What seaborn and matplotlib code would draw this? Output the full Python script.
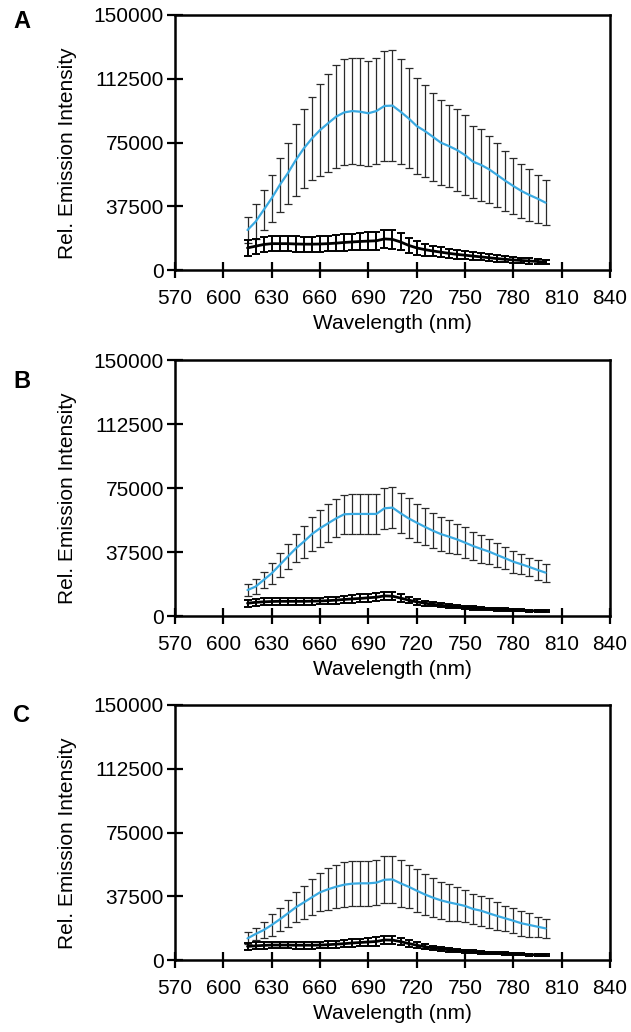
import numpy as np
import pandas as pd
import matplotlib
matplotlib.use("Agg")
import matplotlib.pyplot as plt
import seaborn as sns

# ---------------- data ----------------
wavelength = list(range(615, 805, 5))  # 38 points

blue_A = [23500, 28400, 35300, 42200, 50000, 56900, 64700, 71600, 77400, 82300,
          86300, 90200, 92700, 93500, 93100, 92200, 93500, 96500, 96700, 93100,
          89200, 84700, 81800, 78400, 74900, 72900, 70600, 67600, 63700, 61800,
          59200, 55900, 52500, 49400, 46500, 44100, 42000, 39600]
blue_A_err = [7800, 10200, 11800, 13700, 15700, 18000, 21000, 23300, 24500, 27000,
              28800, 30400, 31200, 31400, 31400, 31000, 31400, 32500, 32700, 30800,
              29400, 28400, 27000, 25900, 25100, 24100, 23900, 23300, 21200, 21000,
              19600, 18600, 17600, 16300, 15900, 15100, 14100, 13300]
black_A = [13000, 14000, 15000, 15500, 15500, 15500, 15300, 15200, 15200, 15300,
           15500, 15800, 16200, 16500, 16800, 17000, 17200, 18300, 18000, 16500,
           14500, 13000, 12000, 11200, 10500, 9800, 9200, 8700, 8200, 7700,
           7200, 6700, 6300, 5900, 5600, 5300, 5000, 4700]
black_A_err = [4500, 4500, 4500, 4500, 4500, 4500, 4500, 4500, 4500, 4500,
               4600, 4700, 4800, 4900, 5000, 5100, 5200, 5500, 5500, 5000,
               4400, 3900, 3500, 3200, 3000, 2800, 2600, 2400, 2300, 2100,
               2000, 1900, 1800, 1700, 1600, 1500, 1400, 1300]

blue_B = [15200, 17200, 21100, 25000, 29900, 34800, 39600, 43600, 48000, 51400,
          54300, 57200, 59600, 59800, 59800, 59800, 59800, 63100, 63500, 60200,
          57200, 54700, 52300, 50000, 48000, 46500, 44900, 43000, 41000, 39300,
          37700, 35700, 33800, 31800, 30300, 28700, 27000, 25400]
blue_B_err = [3300, 4300, 4900, 6200, 6800, 7400, 8200, 9400, 9800, 10700,
              11100, 11100, 11300, 11700, 11900, 11700, 11900, 12100, 12100, 11700,
              11700, 11100, 10700, 10200, 9800, 9800, 8800, 9200, 8400, 8200,
              7200, 6800, 6400, 6400, 5900, 5500, 5700, 5300]
black_B = [7500, 8000, 8300, 8500, 8600, 8600, 8600, 8600, 8700, 8800,
           9000, 9300, 9700, 10000, 10300, 10700, 11000, 11800, 11600, 10500,
           9300, 8300, 7500, 6900, 6300, 5800, 5400, 5000, 4700, 4400,
           4100, 3900, 3700, 3500, 3300, 3100, 3000, 2900]
black_B_err = [2000, 2000, 2000, 2000, 2000, 2000, 2000, 2000, 2000, 2000,
               2100, 2100, 2200, 2200, 2300, 2300, 2400, 2500, 2500, 2200,
               1900, 1700, 1500, 1300, 1200, 1100, 1000, 900, 900, 800,
               800, 700, 700, 700, 600, 600, 600, 600]

blue_C = [12700, 15300, 17600, 20600, 23900, 27400, 31000, 33900, 36900, 39800,
          41600, 43100, 44300, 44900, 45100, 45100, 45500, 47200, 47400, 45100,
          43100, 40800, 38600, 36700, 35100, 33900, 32900, 31800, 30000, 29000,
          27400, 25900, 24500, 23100, 21600, 20600, 19600, 18600]
blue_C_err = [3500, 3700, 4500, 6300, 6900, 7800, 8800, 9800, 10600, 11200,
              12300, 12700, 13100, 13300, 13300, 13300, 13300, 13900, 13700, 13700,
              12700, 12500, 12000, 11400, 11000, 10800, 10200, 9400, 8800, 8800,
              8800, 8000, 7400, 7300, 7300, 6900, 5900, 5500]
black_C = [8000, 8300, 8600, 8800, 8800, 8800, 8700, 8700, 8700, 8800,
           9000, 9300, 9600, 10000, 10300, 10600, 10900, 11800, 11700, 10800,
           9700, 8700, 7800, 7100, 6500, 6000, 5500, 5100, 4800, 4500,
           4200, 4000, 3800, 3600, 3400, 3200, 3000, 2900]
black_C_err = [2000, 2000, 2000, 2000, 2000, 2000, 2000, 2000, 2000, 2000,
               2100, 2100, 2200, 2200, 2300, 2300, 2400, 2500, 2500, 2200,
               1900, 1700, 1500, 1300, 1200, 1100, 1000, 900, 900, 800,
               800, 700, 700, 700, 600, 600, 600, 600]

panel_labels = ["A", "B", "C"]
x_ticks = [570, 600, 630, 660, 690, 720, 750, 780, 810, 840]
y_ticks = [0, 37500, 75000, 112500, 150000]

panels = [
    (blue_A, blue_A_err, black_A, black_A_err),
    (blue_B, blue_B_err, black_B, black_B_err),
    (blue_C, blue_C_err, black_C, black_C_err),
]

# ---------------- style ----------------
sns.set_style("ticks")
plt.rcParams["font.family"] = ["Liberation Sans", "DejaVu Sans"]
plt.rcParams["font.size"] = 15
plt.rcParams["text.color"] = "black"
plt.rcParams["axes.labelcolor"] = "black"
plt.rcParams["xtick.color"] = "black"
plt.rcParams["ytick.color"] = "black"

BLUE = "#3aaae2"

fig = plt.figure(figsize=(6.31, 10.32), dpi=100)
W, H = 631, 1032
left, right = 175, 610
tops_bottoms = [(15, 270), (360, 616), (705, 960)]
label_y = [21, 381, 716]

for i, (blue, blue_err, black, black_err) in enumerate(panels):
    top, bottom = tops_bottoms[i]
    ax = fig.add_axes([left / W, 1 - bottom / H, (right - left) / W, (bottom - top) / H])
    df = pd.DataFrame({"Wavelength": wavelength, "blue": blue, "black": black})

    # error bars
    ax.errorbar(wavelength, blue, yerr=blue_err, fmt="none", ecolor="#2a2a2a",
                elinewidth=0.9, capsize=3.2, capthick=0.9, zorder=2)
    ax.errorbar(wavelength, black, yerr=black_err, fmt="none", ecolor="black",
                elinewidth=1.4, capsize=3.2, capthick=1.4, zorder=2)

    sns.lineplot(data=df, x="Wavelength", y="blue", ax=ax, color=BLUE, lw=1.6, zorder=3)
    sns.lineplot(data=df, x="Wavelength", y="black", ax=ax, color="black", lw=2.0, zorder=3)

    ax.set_xlim(570, 840)
    ax.set_ylim(0, 150000)
    ax.set_xticks(x_ticks)
    ax.set_yticks(y_ticks)
    ax.set_xticklabels([str(t) for t in x_ticks])
    ax.set_yticklabels([str(t) for t in y_ticks])
    ax.tick_params(axis="both", direction="inout", length=12, width=1.6,
                   labelsize=15, color="black", labelcolor="black")
    ax.tick_params(axis="x", pad=8)
    ax.tick_params(axis="y", pad=2)
    for s in ax.spines.values():
        s.set_visible(True)
        s.set_linewidth(1.8)
        s.set_color("black")
    ax.set_xlabel("Wavelength (nm)", fontsize=15, labelpad=4, color="black")
    ax.set_ylabel("Rel. Emission Intensity", fontsize=15, color="black")
    ax.yaxis.set_label_coords(-98 / (right - left), 0.46)

    fig.text(13 / W, 1 - label_y[i] / H, panel_labels[i], fontsize=17,
             fontweight="bold", ha="left", va="center", color="black")

fig.savefig("out.png", dpi=100)
